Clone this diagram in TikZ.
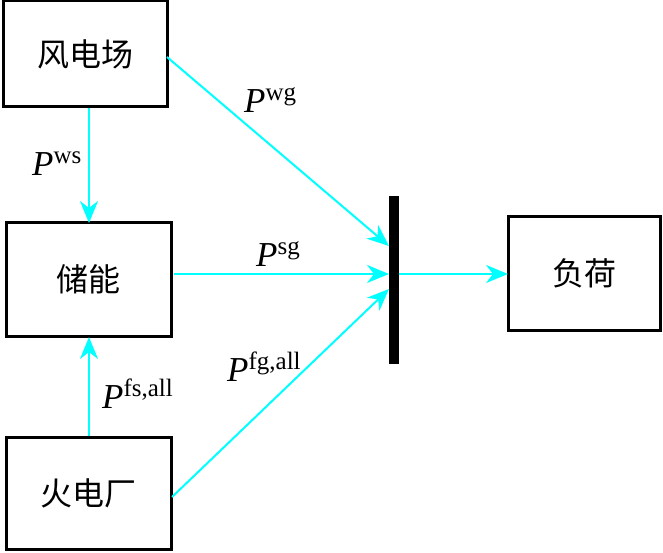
\documentclass[tikz,border=0pt]{standalone}
\usepackage{fontspec}
\setmainfont{Liberation Serif}
\newfontfamily\cjk{Noto Sans CJK SC}
\usetikzlibrary{arrows.meta}
\definecolor{flowcyan}{RGB}{0,255,255}
\tikzset{
  blk/.style={draw=black,line width=3pt,minimum width=#1,inner sep=0pt},
  flow/.style={draw=flowcyan,line width=2pt,-{Stealth[length=22pt,width=18pt,inset=7pt,fill=flowcyan]}},
  lbl/.style={inner sep=0pt,font=\fontsize{35}{35}\selectfont},
  zh/.style={font=\cjk\fontsize{32}{32}\selectfont}
}
\newcommand{\pw}[1]{\textit{P}\raisebox{12pt}{\fontsize{25}{25}\selectfont #1}}
\begin{document}
\begin{tikzpicture}[x=1pt,y=-1pt]
\useasboundingbox (0,0) rectangle (663,553);
\node[blk=164pt,minimum height=106pt,zh] (wind) at (85,54) {风电场};
\node[blk=165pt,minimum height=113pt,zh] (stor) at (88.5,279.5) {储能};
\node[blk=165pt,minimum height=112pt,zh] (ther) at (88.5,493) {火电厂};
\node[blk=152pt,minimum height=113pt,zh] (load) at (584,273.5) {负荷};
\node[fill=black,minimum width=10pt,minimum height=168pt,inner sep=0pt] (bus) at (394,280) {};
\coordinate (w1) at (167,57);
\coordinate (b1) at (389,246);
\coordinate (s1) at (174,274);
\coordinate (b2) at (389,274);
\coordinate (t1) at (172,497);
\coordinate (b3) at (389,289);
\coordinate (b4) at (399,274);
\coordinate (l1) at (508,274);
\coordinate (wb) at (89,108);
\coordinate (st) at (89,223);
\coordinate (tt) at (89,436);
\coordinate (sb) at (89,337);
\draw[flow] (w1) -- (b1);
\draw[flow] (s1) -- (b2);
\draw[flow] (t1) -- (b3);
\draw[flow] (b4) -- (l1);
\draw[flow] (wb) -- (st);
\draw[flow] (tt) -- (sb);
\node[lbl,anchor=base west] (lwg) at (244,113) {\pw{wg}};
\node[lbl,anchor=base west] (lws) at (32,176) {\pw{ws}};
\node[lbl,anchor=base west] (lsg) at (256,266) {\pw{sg}};
\node[lbl,anchor=base west] (lfs) at (102,408) {\pw{fs,all}};
\node[lbl,anchor=base west] (lfg) at (227,381) {\pw{fg,all}};
\end{tikzpicture}
\end{document}
